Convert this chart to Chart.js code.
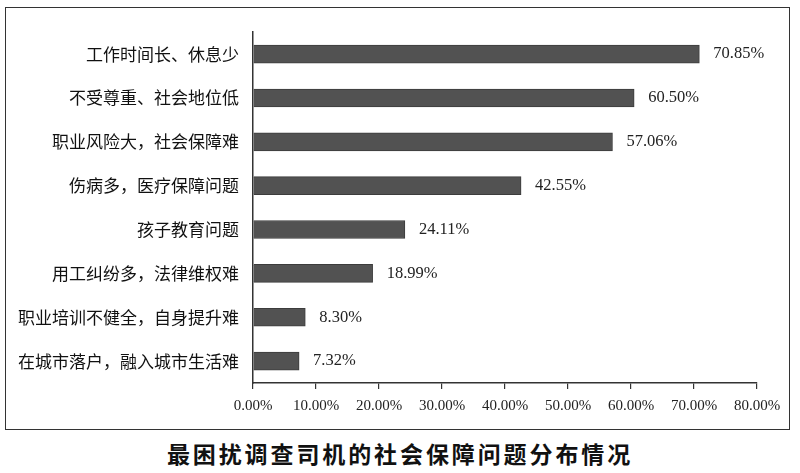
<!DOCTYPE html>
<html>
<head>
<meta charset="utf-8">
<script src="https://cdn.jsdelivr.net/npm/chart.js@4"></script>
<style>
  body { margin: 0; background: #fff; width: 800px; height: 473px; position: relative; overflow: hidden; }
  #box { position: absolute; left: 5px; top: 7px; width: 783px; height: 421px; border: 1.5px solid #333; }
  #box canvas { display: block; }
  #titulo { position: absolute; left: 0; top: 437px; width: 800px; text-align: center;
    font-family: "Noto Sans CJK SC", sans-serif; font-weight: bold; font-size: 23px;
    letter-spacing: 2.9px; color: #111; line-height: 32px; }
</style>
</head>
<body>
<div id="box"><canvas id="graficoProblemas" width="783" height="421"></canvas></div>
<div id="titulo">最困扰调查司机的社会保障问题分布情况</div>
<script>
var categorias = ["工作时间长、休息少", "不受尊重、社会地位低", "职业风险大，社会保障难", "伤病多，医疗保障问题",
    "孩子教育问题", "用工纠纷多，法律维权难", "职业培训不健全，自身提升难", "在城市落户，融入城市生活难"];
var porcentajes = [70.85, 60.50, 57.06, 42.55, 24.11, 18.99, 8.30, 7.32];
var ejeMax = 80;
var ejePaso = 10;

// etiquetas de valor al final de cada barra
var etiquetasValor = {
    id: 'etiquetasValor',
    afterDatasetsDraw: function (chart) {
        var ctx = chart.ctx;
        var meta = chart.getDatasetMeta(0);
        ctx.save();
        ctx.font = '16.5px "Liberation Serif", serif';
        ctx.fillStyle = '#222';
        ctx.textAlign = 'left';
        ctx.textBaseline = 'middle';
        meta.data.forEach(function (bar, i) {
            ctx.fillText(porcentajes[i].toFixed(2) + '%', bar.x + 14, bar.y);
        });
        ctx.restore();
    }
};

var ctx = document.getElementById('graficoProblemas').getContext('2d');
var chart = new Chart(ctx, {
    type: 'bar',
    data: {
        labels: categorias,
        datasets: [{
            data: porcentajes,
            backgroundColor: '#525252',
            borderColor: '#3c3c3c',
            borderWidth: 1,
            barThickness: 18
        }]
    },
    plugins: [etiquetasValor],
    options: {
        indexAxis: 'y',
        responsive: false,
        animation: false,
        layout: { padding: { top: 23, right: 32, left: 0, bottom: 0 } },
        plugins: {
            legend: { display: false },
            tooltip: { enabled: false }
        },
        scales: {
            x: {
                min: 0,
                max: ejeMax,
                afterFit: function (scale) { scale.height = 46; },
                border: { display: true, color: '#333', width: 1.5 },
                grid: { drawOnChartArea: false, drawTicks: true, tickLength: 6, color: '#333', lineWidth: 1.2 },
                ticks: {
                    stepSize: ejePaso,
                    padding: 8,
                    color: '#222',
                    font: { family: '"Liberation Serif", serif', size: 15 },
                    maxRotation: 0,
                    callback: function (v) { return v.toFixed(2) + '%'; }
                }
            },
            y: {
                afterFit: function (scale) { scale.width = 247; },
                border: { display: true, color: '#333', width: 1.5 },
                grid: { display: false, drawTicks: false },
                ticks: {
                    padding: 14,
                    color: '#111',
                    font: { family: '"Noto Sans CJK SC", sans-serif', size: 17 }
                }
            }
        }
    }
});
</script>
</body>
</html>
